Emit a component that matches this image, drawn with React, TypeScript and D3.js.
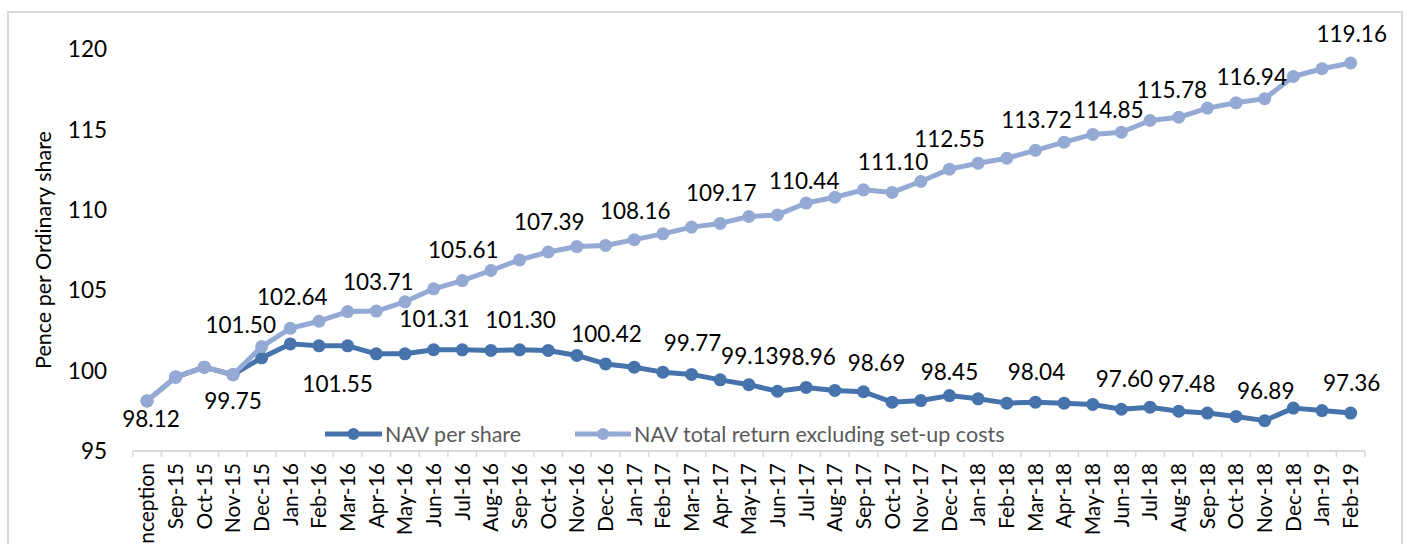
import React from "react";
import * as d3 from "d3";

const categories = [
  "Inception", "Sep-15", "Oct-15", "Nov-15", "Dec-15",
  "Jan-16", "Feb-16", "Mar-16", "Apr-16", "May-16", "Jun-16", "Jul-16", "Aug-16", "Sep-16", "Oct-16", "Nov-16", "Dec-16",
  "Jan-17", "Feb-17", "Mar-17", "Apr-17", "May-17", "Jun-17", "Jul-17", "Aug-17", "Sep-17", "Oct-17", "Nov-17", "Dec-17",
  "Jan-18", "Feb-18", "Mar-18", "Apr-18", "May-18", "Jun-18", "Jul-18", "Aug-18", "Sep-18", "Oct-18", "Nov-18", "Dec-18",
  "Jan-19", "Feb-19",
];

const navPerShare = [
  98.12, 99.6, 100.22, 99.75, 100.8,
  101.67, 101.55, 101.55, 101.05, 101.05, 101.31, 101.3, 101.26, 101.3, 101.26, 100.95, 100.42,
  100.22, 99.91, 99.77, 99.43, 99.13, 98.72, 98.96, 98.77, 98.69, 98.04, 98.14, 98.45,
  98.25, 97.98, 98.04, 97.98, 97.9, 97.6, 97.73, 97.48, 97.36, 97.15, 96.89, 97.67,
  97.52, 97.36,
];

const navTotalReturn = [
  98.12, 99.6, 100.22, 99.75, 101.5,
  102.64, 103.08, 103.68, 103.71, 104.29, 105.1, 105.61, 106.24, 106.9, 107.39, 107.73, 107.8,
  108.16, 108.52, 108.94, 109.17, 109.6, 109.7, 110.44, 110.8, 111.26, 111.1, 111.78, 112.55,
  112.92, 113.23, 113.72, 114.23, 114.71, 114.85, 115.58, 115.78, 116.35, 116.68, 116.94, 118.32,
  118.8, 119.16,
];

const seriesNames = ["NAV per share", "NAV total return excluding set-up costs"];
const yTicks = [95, 100, 105, 110, 115, 120];
const yTitle = "Pence per Ordinary share";

// Labelled points: series (0 = NAV per share, 1 = total return) and category index
const labelSeries = [1, 1, 1, 1, 1, 1, 1, 1, 1, 1, 1, 1, 1, 1, 1, 1, 1,
  0, 0, 0, 0, 0, 0, 0, 0, 0, 0, 0, 0, 0, 0];
const labelIndex = [0, 3, 4, 5, 8, 11, 14, 17, 20, 23, 26, 28, 31, 34, 36, 39, 42,
  7, 10, 13, 16, 19, 21, 23, 25, 28, 31, 34, 36, 39, 42];
// layout nudges for the labels (dx, dy of label centre relative to point)
const labelDx = [4, 0, -21, 2, 2, 1, 1, 1, 1, -2, 1, 0, 1, -13, -7, -13, 1,
  -10, 1, 1, 1, 1, 1, 1, 13, 0, 1, 3, 8, 1, 1];
const labelDy = [18, 26, -21, -31, -29, -30, -30, -29, -30, -22, -30, -30, -30, -22, -27, -22, -29,
  38, -31, -30, -30, -31, -29, -30, -29, -23, -30, -30, -27, -30, -30];

const W = 1409;
const H = 544;
const FONT = "Lato, 'Open Sans', sans-serif";
const DARK = "#4673ab";
const LIGHT = "#94aad4";
const NUM_FS = 22.5;
const TXT_FS = 21.5;
const CAT_FS = 21;

export default function App() {
  const x = d3
    .scaleBand<string>()
    .domain(categories)
    .range([132.7, 1365])
    .paddingInner(0)
    .paddingOuter(0);
  const y = d3.scaleLinear().domain([95, 120]).range([451, 49.5]);
  const cx = (i: number) => (x(categories[i]) as number) + x.bandwidth() / 2;

  const line = d3
    .line<number>()
    .x((_, i) => cx(i))
    .y((v) => y(v));

  const series = [
    { values: navPerShare, color: DARK },
    { values: navTotalReturn, color: LIGHT },
  ];

  const tickXs = categories.map((c) => x(c) as number).concat([x.range()[1]]);
  const axisY = y(95);

  return (
    <svg
      width={W}
      height={H}
      style={{ position: "absolute", left: 0, top: 0, background: "#fff" }}
      fontFamily={FONT}
    >
      <rect x={8} y={12} width={1394} height={560} fill="#fff" stroke="#d9d9d9" strokeWidth={2} />

      {/* Y axis title */}
      <text
        transform={`translate(51, 250) rotate(-90)`}
        textAnchor="middle"
        fontSize={TXT_FS}
        fill="#000"
      >
        {yTitle}
      </text>

      {/* Y tick labels */}
      {yTicks.map((t) => (
        <text key={t} x={107} y={y(t)} dy="0.35em" textAnchor="end" fontSize={NUM_FS} fill="#000">
          {t}
        </text>
      ))}

      {/* X axis */}
      <line x1={x.range()[0]} x2={x.range()[1]} y1={axisY} y2={axisY} stroke="#d9d9d9" strokeWidth={2} />
      {tickXs.map((tx, i) => (
        <line key={i} x1={tx} x2={tx} y1={axisY} y2={axisY + 6} stroke="#d9d9d9" strokeWidth={1.5} />
      ))}
      {categories.map((c, i) => (
        <text
          key={c}
          transform={`translate(${cx(i)}, ${axisY + 12}) rotate(-90)`}
          textAnchor="end"
          dy="0.35em"
          fontSize={CAT_FS}
          fill="#000"
        >
          {c}
        </text>
      ))}

      {/* Legend */}
      <g>
        <line x1={325} x2={382} y1={434} y2={434} stroke={DARK} strokeWidth={5} />
        <circle cx={353.5} cy={434} r={6} fill={DARK} />
        <text x={385} y={434} dy="0.35em" fontSize={TXT_FS} fill="#595959">
          {seriesNames[0]}
        </text>
        <line x1={575} x2={631} y1={434} y2={434} stroke={LIGHT} strokeWidth={5} />
        <circle cx={603} cy={434} r={6} fill={LIGHT} />
        <text x={634} y={434} dy="0.35em" fontSize={TXT_FS} fill="#595959">
          {seriesNames[1]}
        </text>
      </g>

      {/* Series */}
      {series.map((s, si) => (
        <g key={si}>
          <path d={line(s.values) as string} fill="none" stroke={s.color} strokeWidth={5} strokeLinejoin="round" />
          {s.values.map((v, i) => (
            <circle key={i} cx={cx(i)} cy={y(v)} r={6.5} fill={s.color} />
          ))}
        </g>
      ))}

      {/* Data labels */}
      {labelIndex.map((idx, k) => {
        const vals = labelSeries[k] === 0 ? navPerShare : navTotalReturn;
        const v = vals[idx];
        return (
          <text
            key={k}
            x={cx(idx) + labelDx[k]}
            y={y(v) + labelDy[k]}
            dy="0.35em"
            textAnchor="middle"
            fontSize={NUM_FS}
            fill="#000"
          >
            {v.toFixed(2)}
          </text>
        );
      })}
    </svg>
  );
}
